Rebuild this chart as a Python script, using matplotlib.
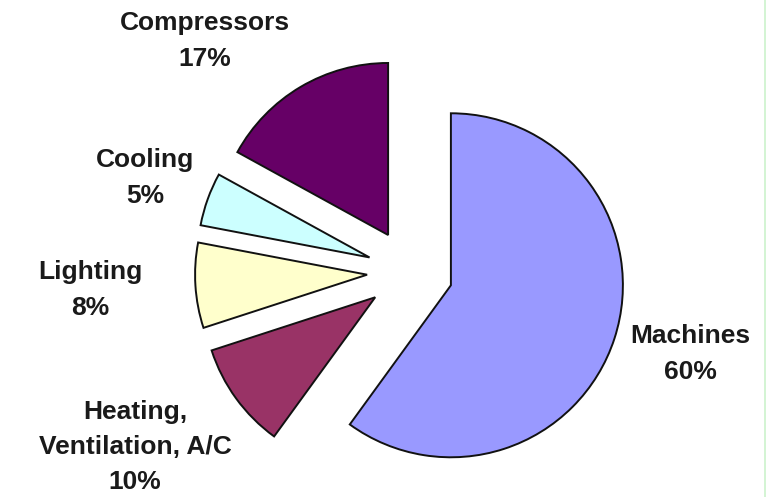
import matplotlib.pyplot as plt
from matplotlib.lines import Line2D

labels = ['Machines', 'Heating,\nVentilation, A/C', 'Lighting', 'Cooling', 'Compressors']
shares = [60, 10, 8, 5, 17]
colors = ['#9999ff', '#993366', '#ffffcc', '#ccffff', '#660066']

# label text positions in pixels (x, y from top)
label_pos = [(690, 354), (135, 447), (90, 290), (145, 178), (205, 41)]

plt.rcParams['font.family'] = ['Liberation Sans', 'DejaVu Sans']

fig = plt.figure(figsize=(7.69, 4.97), dpi=100)
ax = fig.add_axes([0, 0, 1, 1])

# explode is in data units here (pixels), not a fraction of the radius
ax.pie(shares, colors=colors, startangle=90, counterclock=False,
       explode=[43] * len(shares), center=(410, 225), radius=172,
       wedgeprops=dict(edgecolor='#111111', linewidth=1.4))

# pie resets the limits, so set them afterwards
ax.set_xlim(0, 769)
ax.set_ylim(0, 497)
ax.set_aspect('equal')
ax.axis('off')

for lab, val, (x, y) in zip(labels, shares, label_pos):
    ax.text(x, 497 - y, f'{lab}\n{val}%', ha='center', va='center',
            fontsize=19, fontweight='bold', color='#1a1a1a', linespacing=1.6)

fig.add_artist(Line2D([765 / 769, 765 / 769], [0, 1], color='#ccf2cc', lw=1.2))

fig.savefig('out.png', dpi=100)
